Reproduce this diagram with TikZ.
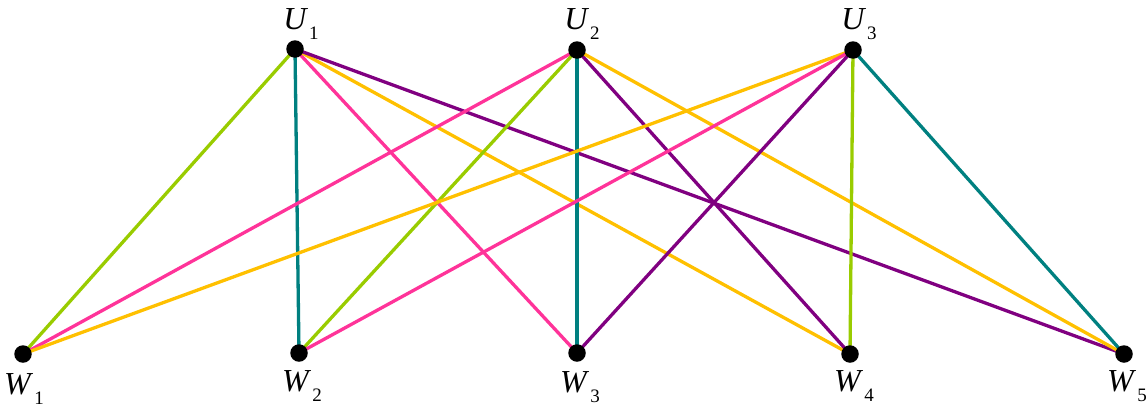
\documentclass[tikz,border=0pt]{standalone}
\usepackage{fontspec}
\setmainfont{Liberation Serif}
\definecolor{cgreen}{HTML}{99CC00}
\definecolor{cteal}{HTML}{008080}
\definecolor{cpink}{HTML}{FF3399}
\definecolor{cyellow}{HTML}{FFC000}
\definecolor{cpurple}{HTML}{800080}
\newcommand{\lbl}[2]{\textit{#1}\kern1pt\raisebox{-0.3em}{\fontsize{19}{19}\selectfont #2}}
\begin{document}
\begin{tikzpicture}[x=1pt,y=-1pt,
  vtx/.style={circle,fill=black,minimum size=17.5pt,inner sep=0pt},
  edge/.style={line width=3.3pt},
  lab/.style={font=\fontsize{32}{32}\selectfont,inner sep=0pt}]
\useasboundingbox (0,0) rectangle (1147,407);
\coordinate (U1) at (295,49);
\coordinate (U2) at (577,50);
\coordinate (U3) at (853,50);
\coordinate (W1) at (23,354);
\coordinate (W2) at (299,353);
\coordinate (W3) at (577,353);
\coordinate (W4) at (850,354);
\coordinate (W5) at (1124,354);
% edges
\draw[edge,cgreen] (U1) -- (W1);
\draw[edge,cteal] (U1) -- (W2);
\draw[edge,cpink] (U1) -- (W3);
\draw[edge,cyellow] (U1) -- (W4);
\draw[edge,cpurple] (U1) -- (W5);
\draw[edge,cpink] (U2) -- (W1);
\draw[edge,cgreen] (U2) -- (W2);
\draw[edge,cteal] (U2) -- (W3);
\draw[edge,cpurple] (U2) -- (W4);
\draw[edge,cyellow] (U2) -- (W5);
\draw[edge,cyellow] (U3) -- (W1);
\draw[edge,cpink] (U3) -- (W2);
\draw[edge,cpurple] (U3) -- (W3);
\draw[edge,cgreen] (U3) -- (W4);
\draw[edge,cteal] (U3) -- (W5);
% vertices
\foreach \v in {U1,U2,U3,W1,W2,W3,W4,W5}{\node[vtx] (d\v) at (\v) {};}
% labels
\node[lab] (lU1) at (301,24) {\lbl{U}{1}};
\node[lab] (lU2) at (582,24) {\lbl{U}{2}};
\node[lab] (lU3) at (859,24) {\lbl{U}{3}};
\node[lab] (lW1) at (24,389) {\lbl{W}{1}};
\node[lab] (lW2) at (302,386) {\lbl{W}{2}};
\node[lab] (lW3) at (580,387) {\lbl{W}{3}};
\node[lab] (lW4) at (854,386) {\lbl{W}{4}};
\node[lab] (lW5) at (1127,386) {\lbl{W}{5}};
\end{tikzpicture}
\end{document}
